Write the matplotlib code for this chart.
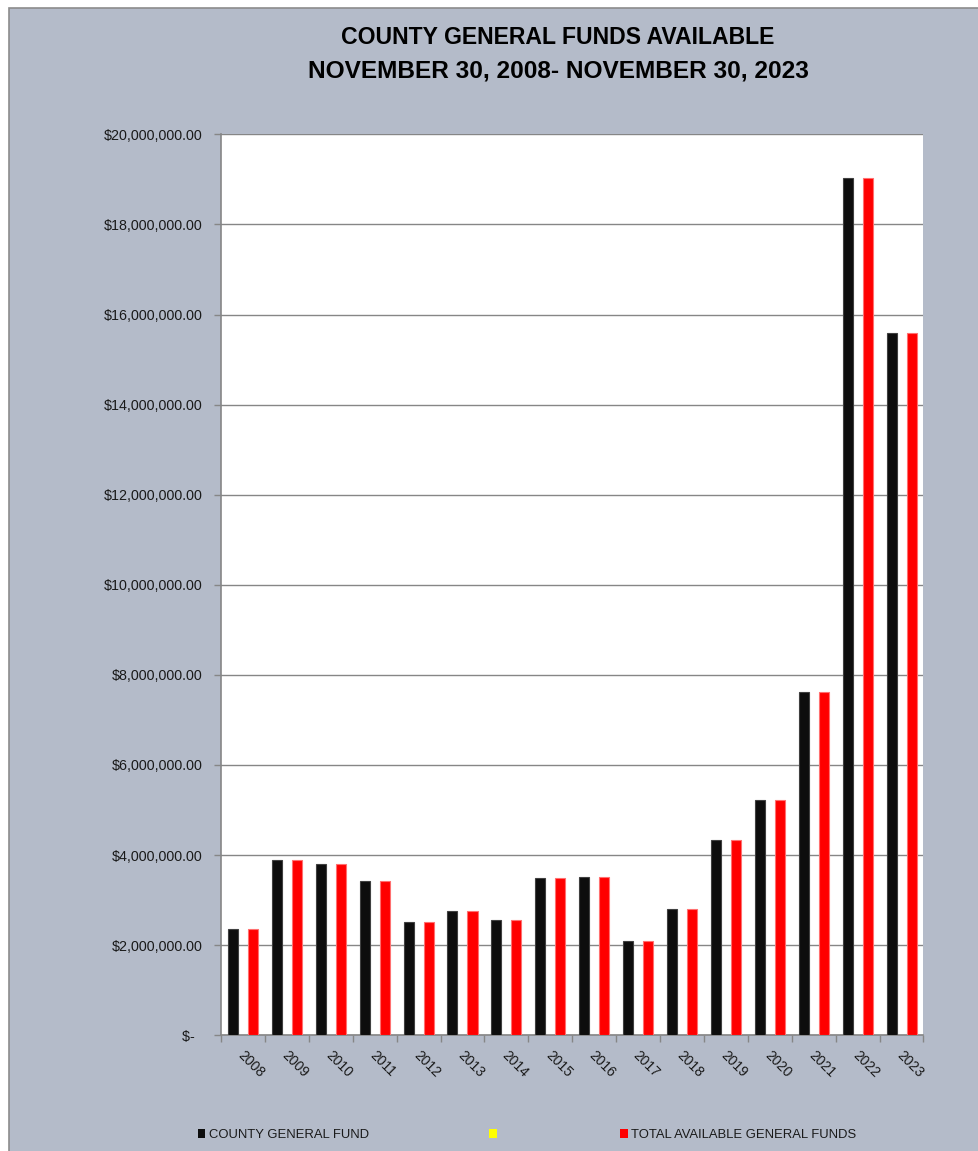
import matplotlib
matplotlib.use("Agg")
import matplotlib.pyplot as plt
from matplotlib.patches import Rectangle, Patch
from matplotlib.ticker import FuncFormatter, FixedLocator
import numpy as np

years = ["2008", "2009", "2010", "2011", "2012", "2013", "2014", "2015",
         "2016", "2017", "2018", "2019", "2020", "2021", "2022", "2023"]
county_general_fund = [2.36e6, 3.89e6, 3.80e6, 3.42e6, 2.51e6, 2.77e6, 2.57e6, 3.49e6,
                       3.52e6, 2.09e6, 2.81e6, 4.33e6, 5.22e6, 7.61e6, 19.03e6, 15.58e6]
blank_series = [0] * 16
total_available = [2.36e6, 3.89e6, 3.80e6, 3.42e6, 2.51e6, 2.77e6, 2.57e6, 3.49e6,
                   3.52e6, 2.09e6, 2.81e6, 4.33e6, 5.22e6, 7.61e6, 19.03e6, 15.58e6]
series_names = ["COUNTY GENERAL FUND", "", "TOTAL AVAILABLE GENERAL FUNDS"]
series_colors = ["#0D0D0D", "#FFFF00", "#FF0000"]
title_lines = ["COUNTY GENERAL FUNDS AVAILABLE", "NOVEMBER 30, 2008- NOVEMBER 30, 2023"]
y_ticks = [0, 2e6, 4e6, 6e6, 8e6, 10e6, 12e6, 14e6, 16e6, 18e6, 20e6]

FONT = ["Liberation Sans", "DejaVu Sans"]
plt.rcParams["font.family"] = FONT

BG = "#B4BBC9"
W, H = 979, 1151
fig = plt.figure(figsize=(W / 100, H / 100), dpi=100, facecolor="white")
fig.patches.append(Rectangle((9 / W, -0.01), 1.0, 1 - 8 / H + 0.01, transform=fig.transFigure,
                             facecolor=BG, edgecolor="#8C8C8C", linewidth=1.2, zorder=-10))

ax = fig.add_axes([221 / W, 1 - 1035.3 / H, (923.5 - 221) / W, (1035.3 - 134.3) / H])
ax.set_facecolor("white")

x = np.arange(len(years))
bw = 0.228
ax.bar(x - bw, county_general_fund, bw, color=series_colors[0], edgecolor="#404040",
       linewidth=0.8, zorder=3)
ax.bar(x, blank_series, bw, color=series_colors[1], linewidth=0, zorder=3)
ax.bar(x + bw, total_available, bw, color=series_colors[2], edgecolor="#FF7070",
       linewidth=0.8, zorder=3)

ax.set_xlim(-0.5, len(years) - 0.5)
ax.set_ylim(0, 20e6)
ax.yaxis.set_major_locator(FixedLocator(y_ticks))
ax.yaxis.set_major_formatter(FuncFormatter(lambda v, p: "$-  " if v == 0 else f"${v:,.2f}"))
ax.grid(axis="y", color="#868686", linewidth=1.0, zorder=1)
ax.tick_params(axis="y", direction="out", length=5, width=1, color="#868686", pad=8,
               labelsize=10.3, labelcolor="#1A1A1A")

ax.set_xticks(np.arange(-0.5, len(years), 1.0))
ax.set_xticklabels([])
ax.tick_params(axis="x", direction="out", length=5, width=1, color="#868686")

for s in ["top", "right"]:
    ax.spines[s].set_visible(False)
for s in ["left", "bottom"]:
    ax.spines[s].set_color("#868686")
    ax.spines[s].set_linewidth(1.2)

trans = ax.get_xaxis_transform()
for i, yr in enumerate(years):
    ax.text(i - 0.06, -18 / 901, yr, transform=trans, rotation=-45, rotation_mode="anchor",
            ha="left", va="center", fontsize=10, color="#1A1A1A")

title_sizes = [16.6, 17.6]
for k, line in enumerate(title_lines):
    fig.text(558 / W, 1 - (37 + 34 * k) / H, line, ha="center", va="center",
             fontsize=title_sizes[k], fontweight="bold", color="black")

handles = [Patch(facecolor=c, edgecolor="none") for c in series_colors]
fig.legend(handles, series_names, loc="center", bbox_to_anchor=(527 / W, 1 - 1135 / H), ncol=3,
           frameon=False, fontsize=9.4, handlelength=0.6, handleheight=0.6,
           handletextpad=0.25, columnspacing=9.2, labelcolor="#1A1A1A")

fig.savefig("out.png", dpi=100, facecolor=fig.get_facecolor())
